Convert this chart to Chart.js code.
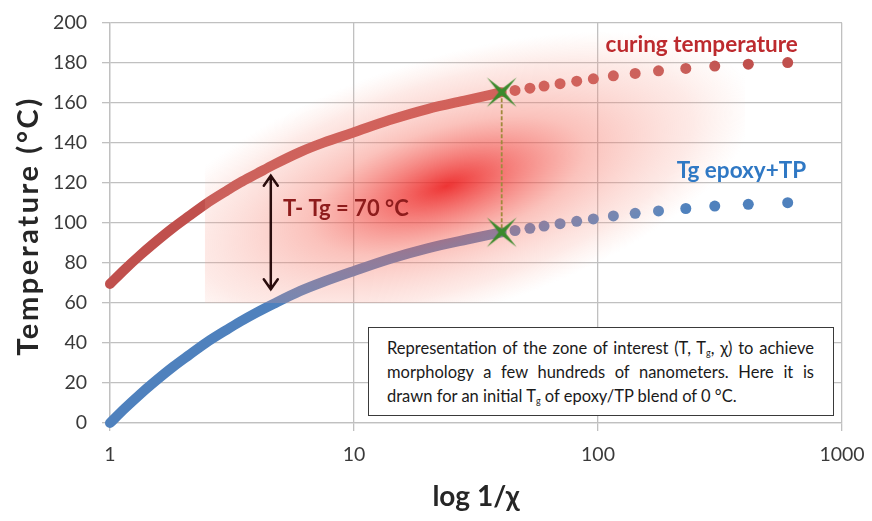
<!DOCTYPE html>
<html>
<head>
<meta charset="utf-8">
<script src="https://cdn.jsdelivr.net/npm/chart.js@4.4.0/dist/chart.umd.min.js"></script>
<style>
  html, body { margin: 0; padding: 0; background: #fff; }
  #wrap { position: relative; width: 872px; height: 521px; }
  #note {
    position: absolute; left: 368px; top: 327px; width: 466px; height: 89px;
    box-sizing: border-box; border: 1.5px solid #3a3a3a; background: #fff;
    padding: 8px 19px 0 18px; font: 16.5px Lato, sans-serif; color: #1a1a1a; line-height: 24px;
  }
  #note div { text-align: justify; text-align-last: justify; white-space: nowrap; }
  #note div.last { text-align-last: left; }
  #note sub { font-size: 9px; vertical-align: -2px; line-height: 0; }
</style>
</head>
<body>
<div id="wrap">
  <canvas id="chart" width="872" height="521"></canvas>
  <div id="note">
    <div>Representation of the zone of interest (T, T<sub>g</sub>, χ) to achieve</div>
    <div>morphology a few hundreds of nanometers. Here it is</div>
    <div class="last">drawn for an initial T<sub>g</sub> of epoxy/TP blend of 0 °C.</div>
  </div>
</div>
<script>
// ---------------- data ----------------
// dense part of both curves (1/χ from 1 to the crossing marker)
const denseX      = [1, 1.15, 1.33, 1.5, 1.82, 2.1, 2.49, 3, 3.41, 4, 4.67, 6, 7.5, 10, 14, 20, 29, 40.3];
const curingDense = [69.5, 76.8, 83.9, 89.4, 97.7, 103.3, 109.8, 116, 120.1, 124.6, 129, 135.4, 140.1, 145.3, 151.4, 156.9, 161.4, 165.3];
const tgDense     = [0, 7.3, 14.4, 19.9, 28.2, 33.8, 40.3, 46.5, 50.6, 55.3, 59.5, 65.9, 70.6, 76, 82, 87.3, 91.7, 95.3];

// separate dots beyond the marker
const dotX        = [45.7, 52.6, 60.1, 69.9, 81.8, 95.7, 115.6, 142, 177, 229, 301, 413, 599];
const curingDots  = [166.2, 167.3, 168.4, 169.6, 170.8, 172.0, 173.5, 174.7, 176.0, 177.2, 178.4, 179.3, 180.1];
const tgDots      = [96.2, 97.3, 98.4, 99.6, 100.8, 102.0, 103.5, 104.8, 106.0, 107.2, 108.4, 109.3, 110.1];

// green crossing markers + T - Tg arrow
const markerX     = [40.3, 40.3];
const markerY     = [165.3, 95.3];
const arrowX      = 4.56;
const arrowY      = [66.8, 123.6];

// axis ticks
const xTicks      = [1, 10, 100, 1000];
const yTicks      = [0, 20, 40, 60, 80, 100, 120, 140, 160, 180, 200];

const RED  = '#C0504D';
const BLUE = '#4F81BD';
const GRID = '#c0c0c0';

const pts = (xs, ys) => xs.map((v, i) => ({ x: v, y: ys[i] }));

// --------------- star marker image ---------------
function makeStar(size, color) {
  const c = document.createElement('canvas');
  c.width = c.height = size;
  const g = c.getContext('2d');
  const m = size / 2;
  g.translate(m, m);
  g.rotate(Math.PI / 4);
  g.beginPath();
  for (let k = 0; k < 8; k++) {
    const a = k * Math.PI / 4;
    const r = k % 2 === 0 ? m : m * 0.15;
    g.lineTo(r * Math.cos(a), r * Math.sin(a));
  }
  g.closePath();
  g.fillStyle = color;
  g.fill();
  return c;
}
const star = makeStar(42, '#3b8a2c');

// --------------- glow, arrow and labels ---------------
function drawGlow(chart) {
  const { ctx, scales: { x, y } } = chart;
  const l = x.getPixelForValue(2.45), r = x.getPixelForValue(400);
  const t = y.getPixelForValue(200),  b = y.getPixelForValue(60);
  const cx = x.getPixelForValue(24),  cy = y.getPixelForValue(118.5);
  ctx.save();
  ctx.beginPath();
  ctx.rect(l, t, r - l, b - t);
  ctx.clip();
  ctx.translate(cx, cy);
  ctx.rotate(-0.3);
  ctx.scale(1, 0.4);
  const g = ctx.createRadialGradient(0, 0, 0, 0, 0, 320);
  g.addColorStop(0,    'rgba(236,30,30,0.9)');
  g.addColorStop(0.18, 'rgba(240,60,55,0.7)');
  g.addColorStop(0.45, 'rgba(245,110,95,0.42)');
  g.addColorStop(0.8,  'rgba(248,160,145,0.22)');
  g.addColorStop(0.92, 'rgba(250,185,170,0.1)');
  g.addColorStop(1,    'rgba(252,200,190,0)');
  ctx.fillStyle = g;
  ctx.fillRect(-600, -1200, 1200, 2400);
  ctx.restore();
}

const decor = {
  id: 'decor',
  beforeDatasetDraw(chart, args) {
    if (args.index === 0) drawGlow(chart);
  },
  afterDatasetsDraw(chart) {
    const { ctx, chartArea, scales: { x, y } } = chart;
    // double arrow
    const ax = x.getPixelForValue(arrowX);
    const yb = y.getPixelForValue(arrowY[0]);
    const yt = y.getPixelForValue(arrowY[1]);
    ctx.save();
    ctx.strokeStyle = '#2a0d0d';
    ctx.lineWidth = 2.5;
    ctx.lineCap = 'round';
    ctx.beginPath();
    ctx.moveTo(ax, yb); ctx.lineTo(ax, yt);
    ctx.moveTo(ax - 7, yt + 10); ctx.lineTo(ax, yt); ctx.lineTo(ax + 7, yt + 10);
    ctx.moveTo(ax - 7, yb - 10); ctx.lineTo(ax, yb); ctx.lineTo(ax + 7, yb - 10);
    ctx.stroke();

    // labels
    ctx.textBaseline = 'middle';
    ctx.textAlign = 'center';
    ctx.font = 'bold 22.5px Lato';
    ctx.fillStyle = '#bd2a2e';
    ctx.fillText('curing temperature', x.getPixelForValue(266), y.getPixelForValue(188.8));
    ctx.fillStyle = '#2f78c4';
    ctx.fillText('Tg epoxy+TP', x.getPixelForValue(387), y.getPixelForValue(125.9));
    ctx.textAlign = 'left';
    ctx.font = 'bold 22px Lato';
    ctx.fillStyle = '#8e1c1c';
    ctx.fillText('T- Tg = 70 °C', x.getPixelForValue(5.12), y.getPixelForValue(106.8));

    // y axis title (spaced out like the original)
    ctx.translate(29, (chartArea.top + chartArea.bottom) / 2 + 3);
    ctx.rotate(-Math.PI / 2);
    ctx.textAlign = 'center';
    ctx.font = 'bold 29px Lato';
    ctx.letterSpacing = '2.6px';
    ctx.fillStyle = '#262626';
    ctx.fillText('Temperature (°C)', 0, 0);
    ctx.restore();
  },
};

// --------------- chart ---------------
Chart.defaults.font.family = 'Lato';

new Chart(document.getElementById('chart').getContext('2d'), {
  type: 'scatter',
  data: {
    datasets: [
      {
        label: 'crossing',
        data: pts(markerX, markerY),
        showLine: true,
        borderColor: '#a08a3c',
        borderWidth: 1.8,
        borderDash: [4, 2],
        pointStyle: star,
        pointRadius: 21,
        clip: false,
      },
      {
        label: 'curing temperature dots',
        data: pts(dotX, curingDots),
        backgroundColor: RED,
        borderWidth: 0,
        pointRadius: 5.5,
        clip: false,
      },
      {
        label: 'Tg epoxy+TP dots',
        data: pts(dotX, tgDots),
        backgroundColor: BLUE,
        borderWidth: 0,
        pointRadius: 5.5,
        clip: false,
      },
      {
        label: 'curing temperature',
        data: pts(denseX, curingDense),
        showLine: true,
        borderColor: RED,
        borderWidth: 10,
        borderCapStyle: 'round',
        borderJoinStyle: 'round',
        cubicInterpolationMode: 'monotone',
        pointRadius: 0,
        clip: false,
      },
      {
        label: 'Tg epoxy+TP',
        data: pts(denseX, tgDense),
        showLine: true,
        borderColor: BLUE,
        borderWidth: 10,
        borderCapStyle: 'round',
        borderJoinStyle: 'round',
        cubicInterpolationMode: 'monotone',
        pointRadius: 0,
        clip: false,
      },
    ],
  },
  options: {
    responsive: false,
    animation: false,
    devicePixelRatio: 1,
    layout: { padding: { top: 18, right: 30, left: 0, bottom: 0 } },
    plugins: { legend: { display: false }, tooltip: { enabled: false } },
    scales: {
      x: {
        type: 'logarithmic',
        min: 1,
        max: 1000,
        afterBuildTicks: s => { s.ticks = xTicks.map(v => ({ value: v })); },
        afterFit: s => { s.height = 98; s.paddingLeft = 0; s.paddingRight = 0; },
        ticks: { callback: v => String(v), font: { size: 19.5 }, color: '#3a3a3a', padding: 12, maxRotation: 0, autoSkip: false },
        grid: { color: GRID, lineWidth: 1.3, tickLength: 8 },
        border: { color: GRID, width: 1.3 },
        title: { display: true, text: 'log 1/χ', font: { size: 28, weight: 'bold' }, color: '#262626', padding: { top: 0, bottom: 7 } },
      },
      y: {
        min: 0,
        max: 200,
        afterBuildTicks: s => { s.ticks = yTicks.map(v => ({ value: v })); },
        afterFit: s => { s.width = 110; s.paddingTop = 0; s.paddingBottom = 0; },
        ticks: { font: { size: 19.5 }, color: '#3a3a3a', padding: 15 },
        grid: { color: GRID, lineWidth: 1.3, tickLength: 8 },
        border: { color: GRID, width: 1.3 },
        title: { display: false },
      },
    },
  },
  plugins: [decor],
});
</script>
</body>
</html>
